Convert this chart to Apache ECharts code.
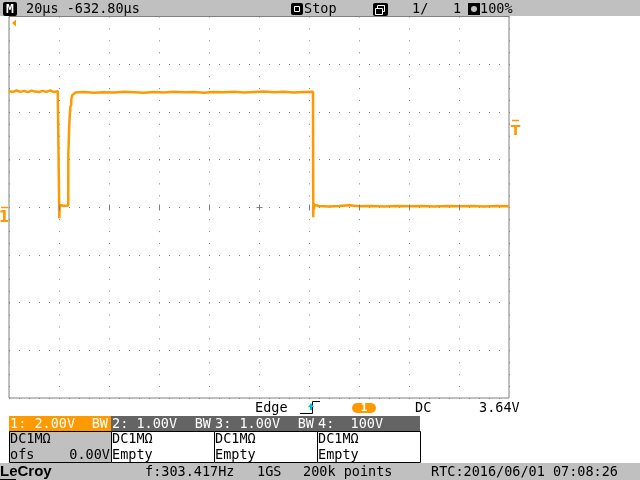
<!DOCTYPE html>
<html><head><meta charset="utf-8">
<script src="https://cdn.jsdelivr.net/npm/echarts@6/dist/echarts.min.js"></script>
<style>html,body{margin:0;padding:0;background:#fff}#c{width:640px;height:480px}</style>
</head><body><div id="c"></div>
<script>
// ---- data (time in microseconds, channel 1 in volts) ----
const timeUs = [0, 1.5, 3, 4.5, 6, 7.5, 9, 10.5, 12, 13.5, 15, 16.5, 18, 19.5, 20.08,
  20.12, 20.25, 20.5, 22, 23.7,
  23.74, 24.1, 24.14, 24.5, 24.54, 24.9, 24.94, 25.3, 25.34, 25.7, 26.5,
  30, 34, 38, 42, 46, 50, 54, 58, 62, 66, 70, 74, 78, 82, 86, 90, 94, 98, 102, 106, 110, 114, 118, 121.6,
  121.7, 121.8, 121.95, 122.2, 122.6, 124,
  128, 132, 136, 140, 145, 150, 155, 160, 165, 170, 175, 180, 185, 190, 195, 200];
const ch1Volts = [4.87, 4.83, 4.90, 4.84, 4.88, 4.83, 4.89, 4.85, 4.83, 4.88, 4.84, 4.90, 4.83, 4.87, 4.86,
  -0.46, -0.05, 0.08, 0.06, 0.07,
  2.25, 2.32, 3.55, 3.62, 4.21, 4.30, 4.55, 4.62, 4.70, 4.76, 4.81,
  4.83, 4.80, 4.82, 4.81, 4.84, 4.82, 4.80, 4.83, 4.81, 4.84, 4.82, 4.83, 4.80, 4.83, 4.82, 4.84, 4.81, 4.83, 4.85, 4.82, 4.84, 4.81, 4.83, 4.84,
  -0.42, 0.18, -0.08, 0.10, 0.03, 0.05,
  0.03, 0.05, 0.08, 0.04, 0.05, 0.03, 0.05, 0.04, 0.05, 0.03, 0.05, 0.04, 0.05, 0.03, 0.05, 0.04];
const triggerLevelV = 3.64;
const groundV = 0;
const xMin = 0, xMax = 200, xDiv = 20;   // 20 us/div, 10 div
const yMin = -8, yMax = 8, yDiv = 2;     // 2.00 V/div, 8 div

const headerTexts = { timebase: '20µs -632.80µs', state: 'Stop', seq: '1/', seqN: '1', intensity: '100%' };
const channels = [
  { head: '1: 2.00V', bw: 'BW', coupling: 'DC1MΩ', row2: 'ofs', row2r: '0.00V' },
  { head: '2: 1.00V', bw: 'BW', coupling: 'DC1MΩ', row2: 'Empty', row2r: '' },
  { head: '3: 1.00V', bw: 'BW', coupling: 'DC1MΩ', row2: 'Empty', row2r: '' },
  { head: '4:  100V', bw: '', coupling: 'DC1MΩ', row2: 'Empty', row2r: '' }
];
const triggerTexts = { type: 'Edge', src: '1', coupling: 'DC', level: '3.64V' };
const statusTexts = { brand: 'LeCroy', freq: 'f:303.417Hz', rate: '1GS', points: '200k points', rtc: 'RTC:2016/06/01 07:08:26' };

const ORANGE = '#ff9900';
const GRID = '#808080';
const BAR = '#c0c0c0';
const DARK = '#646464';
const MONO = '"DejaVu Sans Mono", "Liberation Mono", monospace';
const F = '13.5px ' + MONO;

const chart = echarts.init(document.getElementById('c'), null, { renderer: 'canvas' });
const gTop = 16.5, gH = 381.5, gLeft = 9, gW = 500;
chart.setOption({
  animation: false,
  backgroundColor: '#ffffff',
  grid: { left: gLeft, top: gTop, width: gW, height: gH, show: true, borderColor: GRID, borderWidth: 1, backgroundColor: 'transparent' },
  xAxis: {
    type: 'value', min: xMin, max: xMax, interval: xDiv,
    axisLine: { show: false }, axisTick: { show: false }, axisLabel: { show: false },
    splitLine: { show: true, lineStyle: { color: GRID, width: 1, type: [1, gH / 32 - 1] } }
  },
  yAxis: {
    type: 'value', min: yMin, max: yMax, interval: yDiv,
    axisLine: { show: false }, axisTick: { show: false }, axisLabel: { show: false },
    splitLine: { show: true, lineStyle: { color: GRID, width: 1, type: [1, 9] } }
  },
  series: [{
    type: 'line', data: timeUs.map((t, i) => [t, ch1Volts[i]]),
    showSymbol: false, symbol: 'none', sampling: false,
    lineStyle: { color: ORANGE, width: 2.5 }, clip: true, z: 5
  }]
});

function P(x, y) { return chart.convertToPixel({ gridIndex: 0 }, [x, y]); }
const els = [];
function rect(x, y, w, h, fill, stroke, r) {
  els.push({ type: 'rect', shape: { x, y, width: w, height: h, r: r || 0 }, style: { fill: fill || 'none', stroke: stroke || null, lineWidth: 1 }, z: 10 });
}
function txt(x, y, t, fill, font, align) {
  els.push({ type: 'text', style: { x, y, text: t, fill: fill || '#000', font: font || F, align: align || 'left', verticalAlign: 'middle' }, z: 11 });
}
function line(pts, stroke, w) {
  els.push({ type: 'polyline', shape: { points: pts }, style: { stroke, lineWidth: w || 1, fill: null }, z: 11 });
}

// center-line major ticks (from axis scales) and centre cross
for (let x = xMin + xDiv; x < xMax; x += xDiv) {
  const p = P(x, 0);
  line([[Math.round(p[0]) + 0.5, Math.round(p[1]) - 2.5], [Math.round(p[0]) + 0.5, Math.round(p[1]) + 3.5]], GRID, 1);
}
const c0 = P((xMin + xMax) / 2, 0);
line([[Math.round(c0[0]) - 2.5, Math.round(c0[1]) + 0.5], [Math.round(c0[0]) + 3.5, Math.round(c0[1]) + 0.5]], GRID, 1);

// header bar
rect(0, 0, 640, 16, BAR);
rect(3, 2, 14, 14, '#000', null, 2);
txt(10, 9.5, 'M', '#fff', 'bold 13px ' + MONO, 'center');
txt(26, 9, headerTexts.timebase);
rect(291, 3, 12, 12, '#000', null, 2);
rect(294.5, 6.5, 5, 5, null, '#fff');
txt(304, 9, headerTexts.state);
rect(373, 3, 15, 13, '#000', null, 2);
rect(377.5, 5.5, 7, 6, null, '#fff');
rect(375.5, 8.5, 7, 6, '#000', '#fff');
txt(412, 9, headerTexts.seq);
txt(453, 9, headerTexts.seqN);
rect(468, 3, 12, 12, '#000');
els.push({ type: 'circle', shape: { cx: 474, cy: 9, r: 3 }, style: { fill: '#c0c0c0' }, z: 11 });
txt(480, 9, headerTexts.intensity);

// trigger position arrow (off-screen to the left)
els.push({ type: 'polygon', shape: { points: [[12, 23], [16, 19.5], [16, 26.5]] }, style: { fill: ORANGE }, z: 11 });

// ground marker for channel 1
const g = P(xMin, groundV);
line([[1, Math.round(g[1]) + 0.5], [8, Math.round(g[1]) + 0.5]], ORANGE, 1.5);
txt(4, g[1] + 11, '1', ORANGE, 'bold 15px "DejaVu Sans"', 'center');

// trigger level marker on right
const tl = P(xMax, triggerLevelV);
line([[512, Math.round(tl[1]) + 0.5], [519, Math.round(tl[1]) + 0.5]], ORANGE, 1.5);
txt(515.5, tl[1] + 10.5, 'T', ORANGE, 'bold 14px "DejaVu Sans"', 'center');

// trigger info row
txt(255, 408, triggerTexts.type);
line([[300, 413.5], [312.5, 413.5], [312.5, 401.5], [320, 401.5]], '#000', 1);
els.push({ type: 'polygon', shape: { points: [[311, 403], [308, 407], [314, 407]] }, style: { fill: '#00c0e0' }, z: 12 });
line([[311, 406], [311, 410]], '#00c0e0', 2);
rect(352, 403, 24, 10, ORANGE, null, 5);
txt(364, 408.5, triggerTexts.src, '#fff', 'bold 11px ' + MONO, 'center');
txt(415, 408, triggerTexts.coupling);
txt(479, 408, triggerTexts.level);

// channel boxes
const bx = [9, 111, 214, 317, 420];
channels.forEach((c, i) => {
  const x0 = bx[i], w = bx[i + 1] - bx[i];
  rect(x0, 416, w, 16, i === 0 ? ORANGE : DARK);
  rect(x0 + 0.5, 431.5, w, 31, i === 0 ? BAR : '#fff', '#000');
  txt(x0 + 1, 424, c.head, '#fff');
  if (c.bw) txt(x0 + w - 3, 424, c.bw, '#fff', F, 'right');
  txt(x0 + 1, 439.5, c.coupling);
  txt(x0 + 1, 455, c.row2);
  if (c.row2r) txt(x0 + w - 1, 455, c.row2r, '#000', F, 'right');
});

// status bar
rect(0, 463, 640, 17, BAR);
txt(0, 472, statusTexts.brand, '#000', 'bold 15px "Liberation Sans", Arial, sans-serif');
line([[0, 479.5], [16, 479.5]], '#000', 1);
txt(145, 472, statusTexts.freq);
txt(257, 472, statusTexts.rate);
txt(303, 472, statusTexts.points);
txt(431, 472, statusTexts.rtc);

chart.setOption({ graphic: { elements: els } });
</script></body></html>
